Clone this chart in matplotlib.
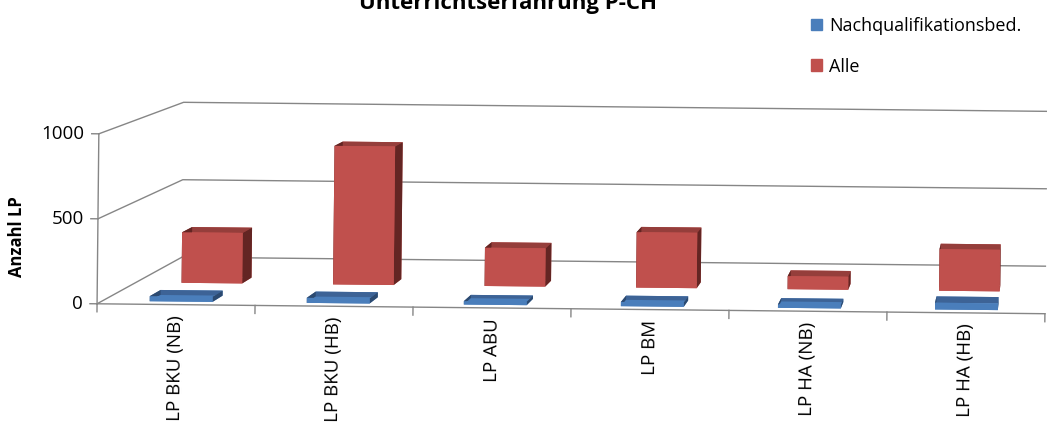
import matplotlib.pyplot as plt
from matplotlib.patches import Patch

categories = ["LP BKU (NB)", "LP BKU (HB)", "LP ABU", "LP BM", "LP HA (NB)", "LP HA (HB)"]
nachqual = [30, 30, 20, 25, 20, 40]
alle = [310, 850, 235, 340, 80, 255]
zticks = [0, 500, 1000]

plt.rcParams['font.family'] = ['Open Sans', 'DejaVu Sans']

W, H = 1047, 425
fig = plt.figure(figsize=(W / 100, H / 100), dpi=100)

n = len(categories)
# the camera sits high above the floor and far to the right, so the box is
# made twice as wide and tall; its centre is where the camera looks
xmax, zmax = 2 * n, 6280
px_unit, px_1000 = 158, 170
box = (xmax * px_unit, 1220, zmax / 1000 * px_1000)

S = 2308.6
centre = (1050.5, -220)           # pixel position of the box centre, from top-left
off = 0.095 / 0.185 * S           # 3d axes put the projection origin here
ax = fig.add_axes([(centre[0] - off) / W, (H - centre[1] - off) / H, S / W, S / H],
                  projection='3d', computed_zorder=False)
ax.set_proj_type('persp', focal_length=1.0)
ax.view_init(elev=0, azim=-90, roll=-0.6)
ax.set_box_aspect(box, zoom=1.0)
ax.set_axis_off()

grey = '#868686'

# walls: horizontal gridlines on the left and back wall
for v in zticks:
    ax.plot([0, 0, n], [0, 1, 1], [v, v, v], color=grey, lw=1.0, zorder=1)
    ax.plot([-0.045, 0], [0, 0], [v, v], color=grey, lw=1.0, zorder=1)
    ax.text(-0.09, 0, v, str(v), ha='right', va='center', fontsize=13.5)

# value axis and front edge of the floor with category ticks
ax.plot([0, 0], [0, 0], [0, 1000], color=grey, lw=1.0, zorder=1)
ax.plot([0, n], [0, 0], [0, 0], color=grey, lw=1.0, zorder=1)
for i in range(n + 1):
    ax.plot([i, i], [0, 0], [0, -47], color=grey, lw=1.0, zorder=1)


def face_colors(front, top, side):
    # bar3d face order: bottom, top, front, back, left, right
    return [front, top, front, front, side, side] * n


w, d = 0.4, 0.125
xs = [i + 0.5 - w / 2 for i in range(n)]
ax.bar3d(xs, [0.437] * n, [0] * n, w, d, alle,
         color=face_colors('#C0504D', '#953E3B', '#632523'),
         shade=False, lw=0, zorder=2)
ax.bar3d(xs, [0.06] * n, [0] * n, w, d, nachqual,
         color=face_colors('#4A7EBB', '#3D6396', '#2C4A70'),
         shade=False, lw=0, zorder=3)

for i, c in enumerate(categories):
    ax.text(i + 0.5, 0, -60, c, zdir='z', ha='center', va='top', fontsize=13.5)

ax.set_xlim(0, xmax)
ax.set_ylim(0, 1)
ax.set_zlim(0, zmax)

fig.text(508 / W, 1 - 9 / H, 'Unterrichtserfahrung P-CH', ha='center', va='baseline',
         fontsize=16, fontweight='bold')
fig.text(17 / W, 1 - 237 / H, 'Anzahl LP', rotation=90, ha='center', va='center',
         fontsize=12, fontweight='bold')

handles = [Patch(color='#4A7EBB'), Patch(color='#C0504D')]
fig.legend(handles, ['Nachqualifikationsbed.', 'Alle'], loc='upper left',
           bbox_to_anchor=(811 / W, 1 - 17 / H), frameon=False, fontsize=13,
           handlelength=0.6, handleheight=0.6, handletextpad=0.4,
           labelspacing=1.25, borderaxespad=0, borderpad=0)

fig.savefig('out.png', dpi=100)
